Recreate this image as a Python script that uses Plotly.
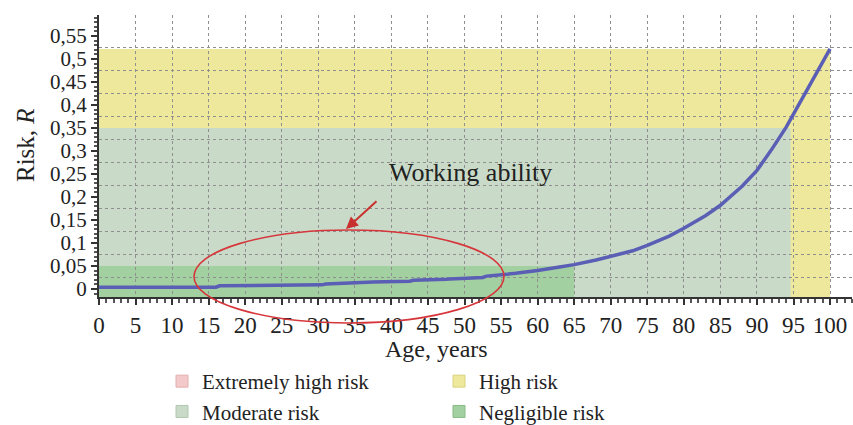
import plotly.graph_objects as go

# ---- data ----
ages = [0, 16, 16.5, 30.5, 31, 37, 37.5, 42.5, 43, 47.5, 48, 52.5, 53, 57, 60, 63, 65,
        68, 70, 73, 75, 78, 80, 83, 85, 88, 90, 92, 94, 96, 98, 100]
risk = [0.004, 0.004, 0.007, 0.009, 0.011, 0.013, 0.015, 0.017, 0.019, 0.021, 0.022,
        0.025, 0.028, 0.034, 0.040, 0.048, 0.053, 0.063, 0.071, 0.083, 0.095, 0.115,
        0.132, 0.160, 0.182, 0.224, 0.258, 0.303, 0.352, 0.410, 0.465, 0.522]

zone_names = ["Extremely high risk", "High risk", "Moderate risk", "Negligible risk"]
zone_colors = ["#F3C9C9", "#EEE89C", "#C9DBC8", "#A3D0A1"]
zone_lines = ["#E3AFAF", "#D8D27E", "#B0C8AF", "#86BC84"]
# zone extents (age end, risk top); extremely high risk has no region in the chart
zone_age_end = [None, 100, 94.6, 65]
zone_risk_top = [None, 0.522, 0.35, 0.05]

x_ticks = list(range(0, 101, 5))
y_ticks = [0, 0.05, 0.1, 0.15, 0.2, 0.25, 0.3, 0.35, 0.4, 0.45, 0.5, 0.55]
y_grid = [0.025, 0.075, 0.125, 0.175, 0.225, 0.275, 0.325, 0.375, 0.425, 0.475, 0.525]

x_range = [0, 103]
y_range = [-0.0174, 0.5957]

FONT = "Liberation Serif, Times New Roman, serif"
W, H = 853, 425
ML, MR, MT, MB = 99, 1, 15, 128
PW, PH = W - ML - MR, H - MT - MB


def px2paper(px, py):
    return (px - ML) / PW, (H - MB - py) / PH


fig = go.Figure()

# legend entries for zones
for name, col, lc in zip(zone_names, zone_colors, zone_lines):
    fig.add_trace(go.Bar(x=[None], y=[None], name=name,
                         marker=dict(color=col, line=dict(color=lc, width=1)),
                         yaxis="y2", hoverinfo="skip"))

# zone rectangles (drawn below grid)
for name, col, a_end, r_top in zip(zone_names, zone_colors, zone_age_end, zone_risk_top):
    if a_end is None:
        continue
    fig.add_shape(type="rect", xref="x", yref="y", x0=x_range[0], x1=a_end,
                  y0=y_range[0] - 0.05, y1=r_top, fillcolor=col, line_width=0,
                  layer="below")

# risk curve
fig.add_trace(go.Scatter(x=ages, y=risk, mode="lines", showlegend=False,
                         line=dict(color="#5A5EB4", width=3.5), name="Risk"))

# ellipse + arrow + label (annotation marks)
ex0, ey0 = px2paper(194, 323)
ex1, ey1 = px2paper(504, 230)
fig.add_shape(type="circle", xref="paper", yref="paper", x0=ex0, x1=ex1, y0=ey0, y1=ey1,
              line=dict(color="#D6363B", width=1.6), layer="above")

hx, hy = px2paper(346, 229)
fig.add_annotation(xref="paper", yref="paper", x=hx, y=hy, ax=32, ay=-29, text="",
                   showarrow=True, arrowhead=2, arrowsize=1.2, arrowwidth=2,
                   arrowcolor="#C8302F")

tx, ty = px2paper(470, 172)
fig.add_annotation(xref="paper", yref="paper", x=tx, y=ty, text="Working ability",
                   xanchor="center", yanchor="middle",
                   showarrow=False, font=dict(family=FONT, size=26, color="#222"))

ax_x, ax_y = px2paper(436, 349)
fig.add_annotation(xref="paper", yref="paper", x=ax_x, y=ax_y, text="Age, years",
                   xanchor="center", yanchor="middle",
                   showarrow=False, font=dict(family=FONT, size=24, color="#222"))

ay_x, ay_y = px2paper(25, 145)
fig.add_annotation(xref="paper", yref="paper", x=ay_x, y=ay_y, text="Risk, <i>R</i>",
                   xanchor="center", yanchor="middle",
                   textangle=-90, showarrow=False,
                   font=dict(family=FONT, size=25, color="#222"))

lx, ly = px2paper(162, 361)

fig.update_layout(
    width=W, height=H,
    margin=dict(l=ML, r=MR, t=MT, b=MB, pad=0, autoexpand=False),
    paper_bgcolor="white", plot_bgcolor="white",
    separators=", ",
    font=dict(family=FONT, size=22, color="#222"),
    barmode="overlay",
    xaxis=dict(range=x_range, tickvals=x_ticks, ticks="outside", ticklen=6, tickwidth=1.5,
               tickcolor="#333", showline=True, linecolor="#333", linewidth=2,
               showgrid=True, gridcolor="#8f8f8f", griddash="dot", gridwidth=1,
               zeroline=False, tickfont=dict(family=FONT, size=23, color="#222"),
               minor=dict(dtick=1, tick0=0, ticks="outside", ticklen=3.5, tickcolor="#555",
                          showgrid=False),
               fixedrange=True),
    yaxis=dict(range=y_range, tickvals=y_ticks, ticks="outside", ticklen=6, tickwidth=1.5,
               tickcolor="#333", showline=True, linecolor="#333", linewidth=2,
               showgrid=False, zeroline=False,
               tickfont=dict(family=FONT, size=21, color="#222"),
               minor=dict(dtick=0.01, tick0=0, ticks="outside", ticklen=3, tickcolor="#555",
                          showgrid=False),
               fixedrange=True),
    yaxis2=dict(range=y_range, overlaying="y", anchor="x", side="left",
                tickvals=y_grid, showticklabels=False, ticks="", showline=False,
                showgrid=True, gridcolor="#8f8f8f", griddash="dot", gridwidth=1,
                zeroline=False, fixedrange=True),
    legend=dict(orientation="h", x=lx, y=ly, xanchor="left", yanchor="top",
                entrywidth=232, entrywidthmode="pixels",
                font=dict(family=FONT, size=21, color="#222"),
                bgcolor="rgba(0,0,0,0)", traceorder="normal"),
    showlegend=True,
)

fig.write_html("out.html", config={"displayModeBar": False},
               post_script="document.body.style.margin='0px';")
